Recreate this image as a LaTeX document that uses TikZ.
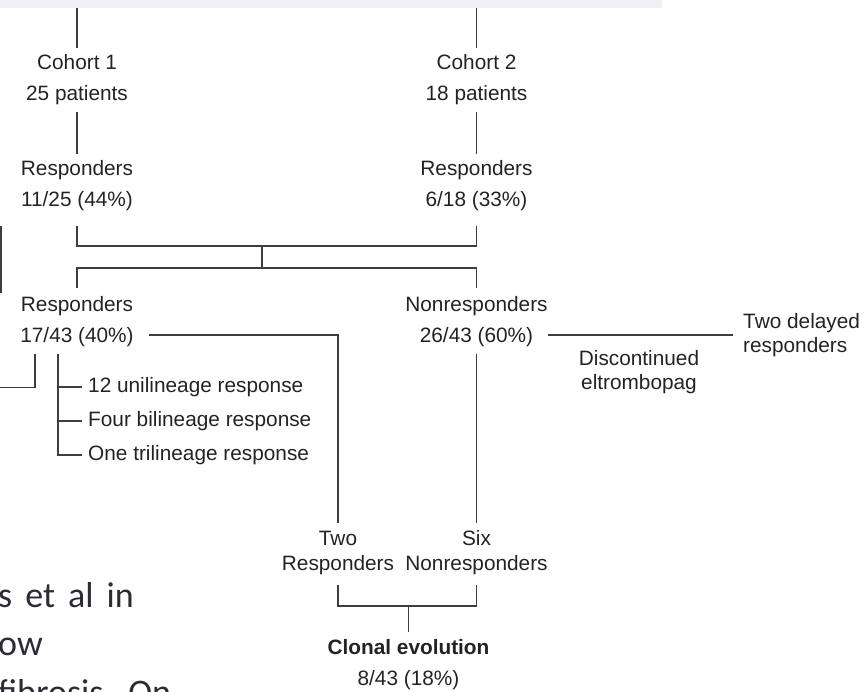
\documentclass[tikz,border=0pt]{standalone}
\usepackage{fontspec}
\setmainfont{Liberation Sans}
\newfontfamily\slidefont{Carlito}
\usetikzlibrary{positioning}
\definecolor{txt}{RGB}{35,35,35}
\definecolor{ln}{RGB}{62,62,62}
\definecolor{band}{RGB}{238,240,243}
\definecolor{slidecol}{RGB}{44,44,54}

\begin{document}
\begin{tikzpicture}[x=1pt,y=-1pt,on grid,node distance=31pt,
	lbl/.style={font=\fontsize{20.8}{25}\selectfont,text=txt,inner sep=6.5pt,
		text height=15pt,text depth=4.5pt,anchor=base},
	cnt/.style={lbl,inner xsep=15pt},
	item/.style={lbl,anchor=base west},
	side/.style={font=\fontsize{20.8}{24.5}\selectfont,text=txt,align=center,inner sep=0pt},
	slidetxt/.style={font=\slidefont\fontsize{36}{48}\selectfont\spaceskip 13pt\relax,
		text=slidecol,anchor=base west,inner sep=0pt},
	link/.style={draw=ln,line width=1.8pt}]
	\useasboundingbox (0,0) rectangle (866,692);
	\fill[band] (0,0) rectangle (662,8);

	\node[lbl] (c1) at (77,69.5) {Cohort 1};
	\node[cnt] (c1n) [below=of c1] {25 patients};
	\node[lbl] (c2) at (476.5,69.5) {Cohort 2};
	\node[cnt] (c2n) [below=of c2] {18 patients};
	\node[lbl] (r1) at (77,175.5) {Responders};
	\node[cnt] (r1n) [below=of r1] {11/25 (44\%)};
	\node[lbl] (r2) at (476.5,175.5) {Responders};
	\node[cnt] (r2n) [below=of r2] {6/18 (33\%)};
	\node[lbl] (r3) at (77,311.5) {Responders};
	\node[cnt] (r3n) [below=of r3] {17/43 (40\%)};
	\node[lbl] (n3) at (476.5,311.5) {Nonresponders};
	\node[cnt] (n3n) [below=of n3] {26/43 (60\%)};
	\node[item] (u1) at (81.5,392.5) {12 unilineage response};
	\node[item] (u2) at (81.5,426.5) {Four bilineage response};
	\node[item] (u3) at (81.5,460) {One trilineage response};
	\node[side] (dc) at (639,372) {Discontinued\\eltrombopag};
	\node[side,align=left,anchor=west,inner xsep=10pt] (td) at (733,335) {Two delayed\\responders};
	\node[lbl] (tr) at (338,545) {Two};
	\node[lbl] (trn) [below=25pt of tr] {Responders};
	\node[lbl] (sx) at (476.5,545) {Six};
	\node[lbl] (sxn) [below=25pt of sx] {Nonresponders};
	\node[lbl,font=\fontsize{20.8}{25}\selectfont\bfseries] (ce) at (408.5,654) {Clonal evolution};
	\node[cnt] (cen) [below=of ce] {8/43 (18\%)};

	\node[slidetxt] (s1) at (-2,607) {s et al in};
	\node[slidetxt] (s2) at (-2,655) {ow};
	\node[slidetxt] (s3) at (-2,704) {fibrosis. On};

	\coordinate (t1) at (77,8);
	\coordinate (t2) at (476.5,8);
	\coordinate (j1) at (262,246);
	\coordinate (j2) at (262,268);
	\coordinate (j3) at (408.5,606);
	\coordinate (lb) at (-4,387.5);
	\coordinate (l1) at (1,226);
	\coordinate (l2) at (1,293);
	\coordinate (sb) at ([xshift=-19pt]r3n.south);

	\path[link] (t1) -- (c1) (c1n) -- (r1) (t2) -- (c2) (c2n) -- (r2);
	\draw[link,shorten <=8.5pt,shorten >=8.5pt] (r1n) |- (j1) -| (r2n);
	\draw[link] (j1) -- (j2);
	\draw[link,shorten <=2pt,shorten >=2pt] (r3) |- (j2) -| (n3);
	\draw[link] ([yshift=2pt]r3n.east) -| (tr);
	\draw[link] (n3n) -- (sx);
	\draw[link] ([yshift=2pt]n3n.east) -- ([yshift=2pt]n3n.east -| td.west);
	\draw[link] (sb) |- (u3);
	\foreach \u in {u1,u2}
		\draw[link] (sb |- \u.west) -- (\u.west);
	\draw[link] ([xshift=-42pt]r3n.south) |- (lb);
	\draw[link] (l1) -- (l2);
	\draw[link,shorten <=4pt,shorten >=4pt] (trn) |- (j3) -| (sxn);
	\draw[link] (j3) -- (ce);
\end{tikzpicture}
\end{document}
